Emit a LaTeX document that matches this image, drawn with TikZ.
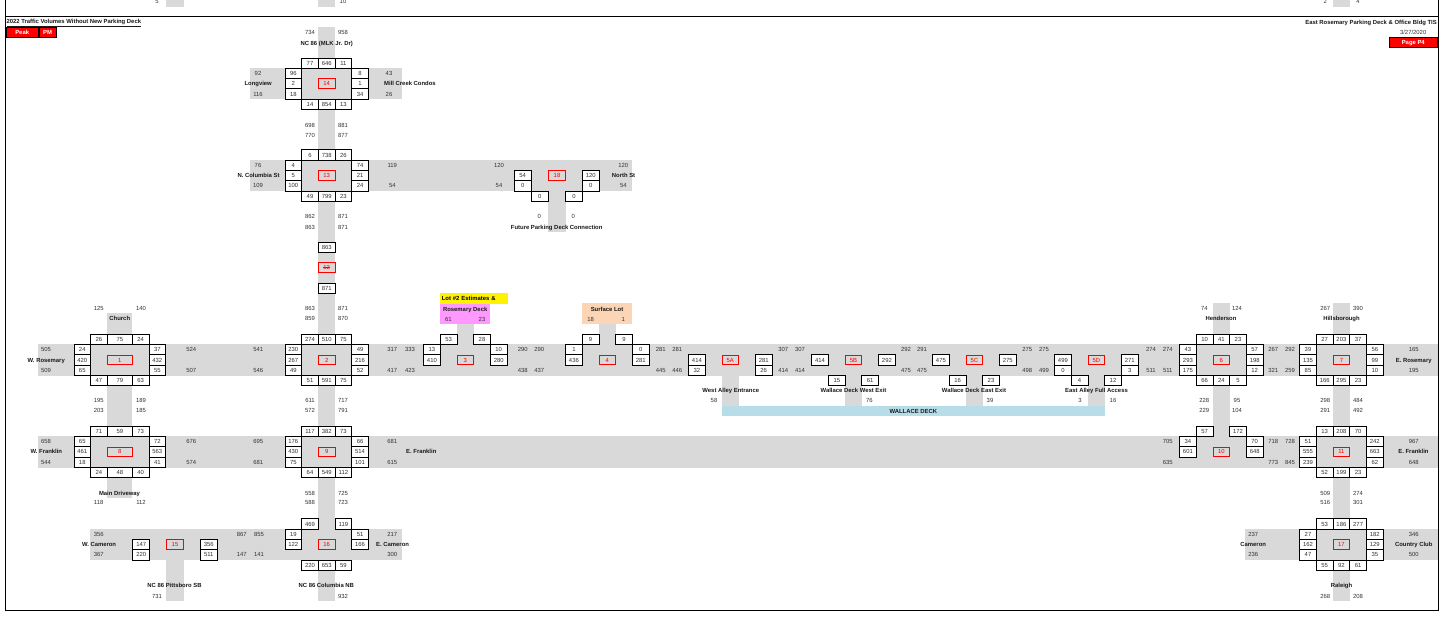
\documentclass[tikz,border=0pt]{standalone}
\usepackage{fontspec}
\setmainfont{Liberation Sans}
\usepackage{tikz}
\usetikzlibrary{positioning}

\definecolor{roadgray}{HTML}{D9D9D9}
\definecolor{deckblue}{HTML}{B7DDE8}
\definecolor{lotpink}{HTML}{FF99FF}
\definecolor{lotpeach}{HTML}{FBD5B5}

\newcommand{\cellw}{16.7}
\newcommand{\cellh}{10.3}
\newcommand{\smallf}{\fontsize{5.9pt}{6.5pt}\selectfont}
\newcommand{\struck}[1]{\rlap{\rule[2pt]{6.6pt}{0.45pt}}#1}

% four-leg intersection: name, x, y, middle width, id, top, left, right, bottom
\newcommand{\fullint}[9]{%
  \begin{scope}[shift={(#2,#3)}]
    \node[idbox, minimum width=#4pt] (i#1) at (0,0) {#5};
    \foreach \v [count=\k] in {#6} {
      \pgfmathsetmacro\wk{ifthenelse(\k==2,#4,\cellw)}
      \node[vbox, minimum width=\wk pt] (i#1-t\k) at ({(\k-2)*(#4/2+\cellw/2)},{-2*\cellh}) {\v};}
    \foreach \v [count=\k] in {#7}
      \node[vbox] (i#1-l\k) at ({-(#4/2+1.5*\cellw)},{(\k-2)*\cellh}) {\v};
    \foreach \v [count=\k] in {#8}
      \node[vbox] (i#1-r\k) at ({#4/2+1.5*\cellw},{(\k-2)*\cellh}) {\v};
    \foreach \v [count=\k] in {#9} {
      \pgfmathsetmacro\wk{ifthenelse(\k==2,#4,\cellw)}
      \node[vbox, minimum width=\wk pt] (i#1-b\k) at ({(\k-2)*(#4/2+\cellw/2)},{2*\cellh}) {\v};}
  \end{scope}}

\begin{document}
\begin{tikzpicture}[x=1pt, y=-1pt,
    font=\smallf,
    road/.style   = {fill=roadgray},
    vbox/.style   = {draw, line width=0.8pt, fill=white, minimum width=16.7pt,
                     minimum height=10.3pt, inner sep=0pt, text=black!80,
                     text height=4.3pt, text depth=0pt},
    idbox/.style  = {draw=red, line width=0.8pt, text=red, minimum height=9.8pt,
                     inner sep=0pt, text height=4.3pt, text depth=0pt},
    vol/.style    = {inner sep=0pt, text=black!80, text height=4.3pt, text depth=0pt},
    rdname/.style = {vol, font=\smallf\bfseries, text=black!90},
    tag/.style    = {draw, line width=0.8pt, fill=red, text=white, font=\smallf\bfseries,
                     minimum height=10pt, inner sep=0pt, text height=4.3pt, text depth=0pt},
    frame/.style  = {line width=0.9pt},
]
\useasboundingbox (0,0) rectangle (1444,620);

% ============ roads ============
\fill[road] (318.3,27) rectangle (335,601);      % NC 86
\fill[road] (250,68.3) rectangle (401.7,99);     % Longview
\fill[road] (250,160) rectangle (631.7,191);     % Columbia / North
\fill[road] (548.3,191) rectangle (566,231.7);   % future connection
\fill[road] (37.7,344.3) rectangle (1438,375.7); % Rosemary
\fill[road] (107.3,312.7) rectangle (132.3,498); % Church / Main Driveway
\fill[road] (457,324) rectangle (473.7,344.3);
\fill[road] (599,324) rectangle (615.7,344.3);
\fill[road] (722,375.7) rectangle (739,406);
\fill[road] (845,375.7) rectangle (861.7,406);
\fill[road] (966,375.7) rectangle (982.7,406);
\fill[road] (1088,375.7) rectangle (1104.7,406);
\fill[road] (1213,302.7) rectangle (1229.7,436); % Henderson
\fill[road] (1333,302.7) rectangle (1349.7,601); % Hillsborough / Raleigh
\fill[road] (37.7,436) rectangle (1438,467.7);   % Franklin
\fill[road] (90,529) rectangle (401.7,560);      % Cameron west
\fill[road] (166,560) rectangle (183.7,601);     % Pittsboro SB
\fill[road] (1245,529) rectangle (1438,560);     % Cameron east
% previous page
\fill[road] (166,0) rectangle (183.7,6.7);
\fill[road] (318.3,0) rectangle (335,6.7);
\fill[road] (1333,0) rectangle (1349.7,6.7);
\foreach \x/\val [count=\k] in {157/5, 343/10, 1325.3/2, 1358/4}
  \node[vol] (prev-\k) at (\x,1.5) {\val};

% ============ frame and header ============
\draw[frame] (5.3,0) -- (5.3,610) -- (1438,610) -- (1438,0);
\draw[frame] (5.3,16) -- (1438,16);
\node[rdname, anchor=west] (title) at (6.3,21.5) {\underline{2022 Traffic Volumes Without New Parking Deck}};
\node[tag, minimum width=32pt] (peak) at (22.2,32.7) {Peak};
\node[tag, minimum width=17pt, right=0pt of peak] (pm) {PM};
\node[rdname, anchor=east] (proj) at (1437,22.5) {East Rosemary Parking Deck \& Office Bldg TIS};
\node[vol, anchor=east] (date) at (1426.5,32) {3/27/2020};
\node[tag, minimum width=48.7pt, anchor=east] (page) at (1438,42.7) {Page P4};

% ============ 14: Longview / Mill Creek Condos ============
\fullint{14}{326.7}{83.7}{16.7}{14}{77,646,11}{96,2,18}{8,1,34}{14,854,13}
\foreach \x/\y/\val [count=\k] in {310/32/734, 343/32/958, 258/73.4/92, 258/94/116,
    389/73.4/43, 389/94/26, 310/125/698, 343/125/881, 310/135/770, 343/135/877}
  \node[vol] (v14-\k) at (\x,\y) {\val};
\node[rdname] (nc86n) at (326.7,43) {NC 86 (MLK Jr. Dr)};
\node[rdname, anchor=east] (longview) at (272,83.7) {Longview};
\node[rdname, anchor=west] (millcreek) at (384,83.7) {Mill Creek Condos};

% ============ 13: N. Columbia St ============
\fullint{13}{326.7}{175.5}{16.7}{13}{6,738,26}{4,5,100}{74,21,24}{49,799,23}
\foreach \x/\y/\val [count=\k] in {258/165.3/76, 258/185.8/109, 392.3/165.3/119, 392.3/185.8/54,
    499/165.3/120, 499/185.8/54, 310/216.7/862, 343/216.7/871, 310/227/863, 343/227/871}
  \node[vol] (v13-\k) at (\x,\y) {\val};
\node[rdname, anchor=east] (ncolumbia) at (279.7,175.5) {N. Columbia St};

% ============ 18: North St / future deck ============
\begin{scope}[shift={(557,175.5)}]
  \node[vbox] (i18-l1) at (-34.3,0) {54};
  \node[vbox] (i18-l2) at (-34.3,10.3) {0};
  \node[idbox, minimum width=16.7pt] (i18) at (0,0) {18};
  \node[vbox] (i18-r1) at (33.8,0) {120};
  \node[vbox] (i18-r2) at (33.8,10.3) {0};
  \node[vbox] (i18-b1) at (-17.2,20.7) {0};
  \node[vbox] (i18-b2) at (17,20.7) {0};
\end{scope}
\foreach \x/\y/\val [count=\k] in {623.3/165.3/120, 623.3/185.8/54, 539.3/216.7/0, 573.3/216.7/0}
  \node[vol] (v18-\k) at (\x,\y) {\val};
\node[rdname, anchor=west] (northst) at (611.7,175.5) {North St};
\node[rdname] (future) at (556.7,227) {Future Parking Deck Connection};

% ============ 12 ============
\node[vbox] (i12-t) at (326.7,247.7) {863};
\node[idbox, minimum width=16.7pt] (i12) at (326.7,267.7) {\struck{12}};
\node[vbox] (i12-b) at (326.7,288.3) {871};

% ============ 1: W. Rosemary / Church ============
\fullint{1}{119.8}{360}{25}{1}{26,75,24}{24,420,65}{37,432,55}{47,79,63}
\foreach \x/\y/\val [count=\k] in {98.7/308.7/125, 141/308.7/140, 46/349.5/505, 46/370.3/509,
    191.3/349.5/524, 191.3/370.3/507, 98.7/400.7/195, 141/400.7/189, 98.7/410.7/203, 141/410.7/185}
  \node[vol] (v1-\k) at (\x,\y) {\val};
\node[rdname] (church) at (119.8,318.7) {Church};
\node[rdname, anchor=east] (wrosemary) at (65,360) {W. Rosemary};

% ============ 2: Rosemary / NC 86 ============
\fullint{2}{326.7}{360}{16.7}{2}{274,510,75}{230,267,49}{49,216,52}{51,591,75}
\foreach \x/\y/\val [count=\k] in {310/308.7/863, 343/308.7/871, 310/318.7/859, 343/318.7/870,
    258.3/349.5/541, 258.3/370.3/546, 392.3/349.5/317, 410/349.5/333, 392.3/370.3/417, 410/370.3/423,
    310/400.7/611, 343/400.7/717, 310/410.7/572, 343/410.7/791}
  \node[vol] (v2-\k) at (\x,\y) {\val};

% ============ 3: Lot #2 / Rosemary Deck ============
\node[fill=lotpink, minimum width=50.3pt, minimum height=20pt, inner sep=0pt] (deck) at (465.2,314) {};
\node[fill=yellow, minimum height=11pt, text width=64pt, inner xsep=1.8pt, inner ysep=0pt,
      align=left, font=\smallf\bfseries, text height=4.3pt, text depth=0pt] (lot2) at (473.8,298.5) {Lot \#2 Estimates \&};
\node[rdname] (deckname) at (465.2,309) {Rosemary Deck};
\begin{scope}[shift={(465.3,360)}]
  \node[vbox] (i3-t1) at (-16.7,-20.6) {53};
  \node[vbox] (i3-t3) at (16.7,-20.6) {28};
  \node[vbox] (i3-l1) at (-33.4,-10.3) {13};
  \node[vbox] (i3-l2) at (-33.4,0) {410};
  \node[idbox, minimum width=16.7pt] (i3) at (0,0) {3};
  \node[vbox] (i3-r1) at (33.4,-10.3) {10};
  \node[vbox] (i3-r2) at (33.4,0) {280};
\end{scope}
\foreach \x/\y/\val [count=\k] in {448.3/319/61, 482/319/23, 522.7/349.5/290, 539.3/349.5/290,
    522.7/370.3/438, 539.3/370.3/437}
  \node[vol] (v3-\k) at (\x,\y) {\val};

% ============ 4: Surface Lot ============
\node[fill=lotpeach, minimum width=49.4pt, minimum height=20.7pt, inner sep=0pt] (surf) at (607,313.7) {};
\node[rdname] (surfname) at (607,309) {Surface Lot};
\begin{scope}[shift={(607.3,360)}]
  \node[vbox] (i4-t1) at (-16.7,-20.6) {9};
  \node[vbox] (i4-t3) at (16.7,-20.6) {9};
  \node[vbox] (i4-l1) at (-33.4,-10.3) {1};
  \node[vbox] (i4-l2) at (-33.4,0) {436};
  \node[idbox, minimum width=16.7pt] (i4) at (0,0) {4};
  \node[vbox] (i4-r1) at (33.4,-10.3) {0};
  \node[vbox] (i4-r2) at (33.4,0) {281};
\end{scope}
\foreach \x/\y/\val [count=\k] in {590.7/319/18, 623.3/319/1, 660.7/349.5/281, 677.3/349.5/281,
    660.7/370.3/445, 677.3/370.3/446}
  \node[vol] (v4-\k) at (\x,\y) {\val};

% ============ 5A-5D: alleys and Wallace Deck ============
\node[fill=deckblue, minimum width=382.7pt, minimum height=10.5pt, inner sep=0pt,
      font=\smallf\bfseries, text=black!90, text height=4.3pt, text depth=0pt] (wallace) at (913.35,411.25) {WALLACE DECK};
\begin{scope}[shift={(730.3,360)}]
  \node[vbox] (i5a-l2) at (-33.4,0) {414};
  \node[vbox] (i5a-l3) at (-33.4,10.3) {32};
  \node[idbox, minimum width=16.5pt] (i5a) at (0,0) {5A};
  \node[vbox] (i5a-r2) at (33.4,0) {281};
  \node[vbox] (i5a-r3) at (33.4,10.3) {26};
\end{scope}
\begin{scope}[shift={(853.5,360)}]
  \node[vbox] (i5b-l2) at (-33.4,0) {414};
  \node[idbox, minimum width=16.5pt] (i5b) at (0,0) {5B};
  \node[vbox] (i5b-r2) at (33.4,0) {292};
  \node[vbox] (i5b-b1) at (-16.7,20.7) {15};
  \node[vbox] (i5b-b2) at (16.7,20.7) {61};
\end{scope}
\begin{scope}[shift={(974.3,360)}]
  \node[vbox] (i5c-l2) at (-33.4,0) {475};
  \node[idbox, minimum width=16.5pt] (i5c) at (0,0) {5C};
  \node[vbox] (i5c-r2) at (33.4,0) {275};
  \node[vbox] (i5c-b1) at (-16.7,20.7) {16};
  \node[vbox] (i5c-b2) at (16.7,20.7) {23};
\end{scope}
\begin{scope}[shift={(1096.3,360)}]
  \node[vbox] (i5d-l2) at (-33.4,0) {499};
  \node[vbox] (i5d-l3) at (-33.4,10.3) {0};
  \node[idbox, minimum width=16.5pt] (i5d) at (0,0) {5D};
  \node[vbox] (i5d-r2) at (33.4,0) {271};
  \node[vbox] (i5d-r3) at (33.4,10.3) {3};
  \node[vbox] (i5d-b1) at (-16.7,20.7) {4};
  \node[vbox] (i5d-b2) at (16.7,20.7) {12};
\end{scope}
\foreach \x/\y/\val [count=\k] in {783.3/349.5/307, 800/349.5/307, 783.3/370.3/414, 800/370.3/414,
    906/349.5/292, 922/349.5/291, 906/370.3/475, 922/370.3/475,
    1027.3/349.5/275, 1044/349.5/275, 1027.3/370.3/498, 1044/370.3/499,
    1151/349.5/274, 1167.7/349.5/274, 1151/370.3/511, 1167.7/370.3/511,
    714/400.7/58, 869.3/400.7/76, 990/400.7/39, 1080/400.7/3, 1113/400.7/16}
  \node[vol] (v5-\k) at (\x,\y) {\val};
\node[rdname] (westalley) at (730.8,390.7) {West Alley Entrance};
\node[rdname] (wdwest) at (853.5,390.7) {Wallace Deck West Exit};
\node[rdname] (wdeast) at (974,390.7) {Wallace Deck East Exit};
\node[rdname] (eastalley) at (1096.5,390.7) {East Alley Full Access};

% ============ 6: Henderson ============
\fullint{6}{1221.3}{360}{16.7}{6}{10,41,23}{43,293,175}{57,198,12}{66,24,5}
\foreach \x/\y/\val [count=\k] in {1204.3/308.7/74, 1237/308.7/124, 1273.3/349.5/267, 1290/349.5/292,
    1273.3/370.3/321, 1290/370.3/259, 1204.3/400.7/228, 1237/400.7/95, 1204.3/410.7/229, 1237/410.7/104}
  \node[vol] (v6-\k) at (\x,\y) {\val};
\node[rdname] (henderson) at (1221,318.7) {Henderson};

% ============ 7: Hillsborough / E. Rosemary ============
\fullint{7}{1341.4}{360}{16.7}{7}{27,203,37}{39,135,85}{56,99,10}{166,295,23}
\foreach \x/\y/\val [count=\k] in {1325.3/308.7/267, 1358/308.7/390, 1413.7/349.5/165, 1413.7/370.3/195,
    1325.3/400.7/298, 1358/400.7/484, 1325.3/410.7/291, 1358/410.7/492}
  \node[vol] (v7-\k) at (\x,\y) {\val};
\node[rdname] (hillsb) at (1341.5,318.7) {Hillsborough};
\node[rdname] (erosemary) at (1413.7,360) {E. Rosemary};

% ============ 8: W. Franklin / Main Driveway ============
\fullint{8}{119.8}{451.8}{25}{8}{71,59,73}{65,461,18}{72,563,41}{24,48,40}
\foreach \x/\y/\val [count=\k] in {46/441.5/658, 46/462.1/544, 191.3/441.5/676, 191.3/462.1/574,
    98.7/502.7/118, 141/502.7/112}
  \node[vol] (v8-\k) at (\x,\y) {\val};
\node[rdname, anchor=east] (wfranklin) at (62.3,451.8) {W. Franklin};
\node[rdname] (maindrive) at (119.5,493) {Main Driveway};

% ============ 9: Franklin / NC 86 ============
\fullint{9}{326.7}{451.8}{16.7}{9}{117,382,73}{176,430,75}{66,514,101}{64,549,112}
\foreach \x/\y/\val [count=\k] in {258.3/441.5/695, 258.3/462.1/681, 392.3/441.5/681, 392.3/462.1/615,
    310/493/558, 343/493/725, 310/502.7/588, 343/502.7/723}
  \node[vol] (v9-\k) at (\x,\y) {\val};
\node[rdname, anchor=west] (efranklinw) at (406,451.8) {E. Franklin};

% ============ 10: Franklin / Henderson ============
\begin{scope}[shift={(1221.3,451.8)}]
  \node[vbox] (i10-t1) at (-16.7,-20.6) {57};
  \node[vbox] (i10-t3) at (16.7,-20.6) {172};
  \node[vbox] (i10-l1) at (-33.4,-10.3) {34};
  \node[vbox] (i10-l2) at (-33.4,0) {601};
  \node[idbox, minimum width=16.7pt] (i10) at (0,0) {10};
  \node[vbox] (i10-r1) at (33.4,-10.3) {70};
  \node[vbox] (i10-r2) at (33.4,0) {648};
\end{scope}
\foreach \x/\y/\val [count=\k] in {1167.7/441.5/705, 1167.7/462.1/635, 1273.3/441.5/718, 1290/441.5/728,
    1273.3/462.1/773, 1290/462.1/845}
  \node[vol] (v10-\k) at (\x,\y) {\val};

% ============ 11: E. Franklin / Hillsborough ============
\fullint{11}{1341.4}{451.8}{16.7}{11}{13,208,70}{51,555,239}{242,663,62}{52,199,23}
\foreach \x/\y/\val [count=\k] in {1413.7/441.5/967, 1413.7/462.1/648, 1325.3/493/509, 1358/493/274,
    1325.3/502.7/516, 1358/502.7/301}
  \node[vol] (v11-\k) at (\x,\y) {\val};
\node[rdname] (efranklin) at (1413.5,451.8) {E. Franklin};

% ============ 15: W. Cameron / Pittsboro SB ============
\begin{scope}[shift={(175,544.5)}]
  \node[vbox] (i15-l2) at (-33.8,0) {147};
  \node[vbox] (i15-l3) at (-33.8,10.3) {220};
  \node[idbox, minimum width=16.7pt] (i15) at (0,0) {15};
  \node[vbox] (i15-r2) at (33.8,0) {356};
  \node[vbox] (i15-r3) at (33.8,10.3) {511};
\end{scope}
\foreach \x/\y/\val [count=\k] in {98.7/534.2/356, 98.7/554.8/367, 157/596/731}
  \node[vol] (v15-\k) at (\x,\y) {\val};
\node[rdname, anchor=east] (wcameron) at (116.3,544.5) {W. Cameron};
\node[rdname] (pittsboro) at (174.5,585) {NC 86 Pittsboro SB};

% ============ 16: E. Cameron / Columbia NB ============
\begin{scope}[shift={(326.7,544.5)}]
  \node[vbox] (i16-t1) at (-16.7,-20.6) {469};
  \node[vbox] (i16-t3) at (16.7,-20.6) {119};
  \node[vbox] (i16-l1) at (-33.4,-10.3) {19};
  \node[vbox] (i16-l2) at (-33.4,0) {122};
  \node[idbox, minimum width=16.7pt] (i16) at (0,0) {16};
  \node[vbox] (i16-r1) at (33.4,-10.3) {51};
  \node[vbox] (i16-r2) at (33.4,0) {166};
  \node[vbox] (i16-b1) at (-16.7,20.6) {220};
  \node[vbox] (i16-b2) at (0,20.6) {653};
  \node[vbox] (i16-b3) at (16.7,20.6) {59};
\end{scope}
\foreach \x/\y/\val [count=\k] in {241.7/534.2/867, 259/534.2/855, 241.7/554.8/147, 259/554.8/141,
    392.3/534.2/217, 392.3/554.8/300, 343/596/932}
  \node[vol] (v16-\k) at (\x,\y) {\val};
\node[rdname, anchor=west] (ecameron) at (376,544.5) {E. Cameron};
\node[rdname] (columbianb) at (326.3,585) {NC 86 Columbia NB};

% ============ 17: Cameron / Country Club / Raleigh ============
\fullint{17}{1341.4}{544.5}{16.7}{17}{53,186,277}{27,162,47}{182,129,35}{55,92,61}
\foreach \x/\y/\val [count=\k] in {1253.3/534.2/237, 1253.3/554.8/236, 1413.7/534.2/346, 1413.7/554.8/500,
    1325.3/596/268, 1358/596/208}
  \node[vol] (v17-\k) at (\x,\y) {\val};
\node[rdname] (cameron) at (1253.2,544.5) {Cameron};
\node[rdname] (countryclub) at (1413.7,544.5) {Country Club};
\node[rdname] (raleigh) at (1341.5,585) {Raleigh};

\end{tikzpicture}
\end{document}
